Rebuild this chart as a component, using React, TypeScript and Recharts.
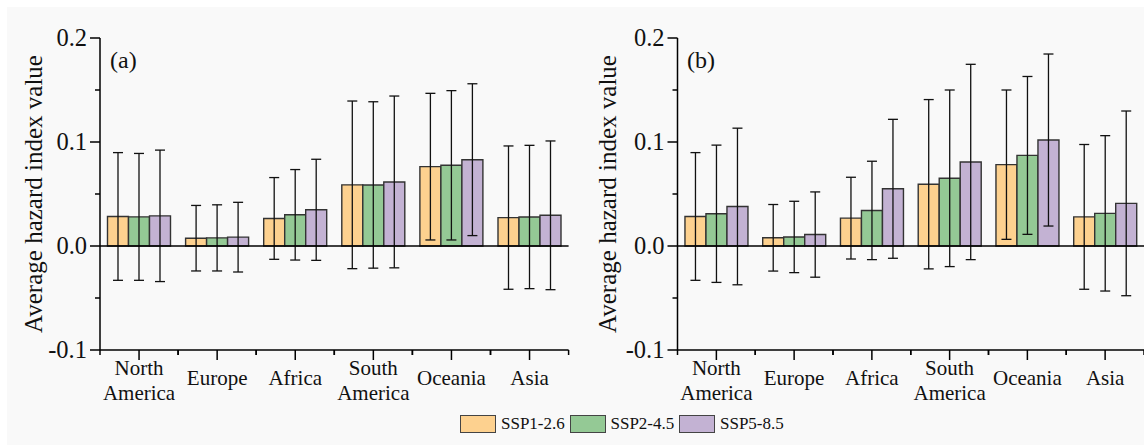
import { BarChart, Bar, XAxis, YAxis, ErrorBar, ReferenceLine } from 'recharts'

const categories = ['North America', 'Europe', 'Africa', 'South America', 'Oceania', 'Asia']
const scenarios = ['SSP1-2.6', 'SSP2-4.5', 'SSP5-8.5']
const yTicks = [-0.1, -0.05, 0, 0.05, 0.1, 0.15, 0.2]

// panel (a)
const a126 = [0.0284, 0.0075, 0.0265, 0.0588, 0.0763, 0.0273]
const a245 = [0.028, 0.0078, 0.03, 0.0587, 0.0776, 0.0279]
const a585 = [0.029, 0.0085, 0.0348, 0.0616, 0.083, 0.0295]
const a126Err = [0.0614, 0.0315, 0.0393, 0.0806, 0.0705, 0.0689]
const a245Err = [0.061, 0.0318, 0.0435, 0.08, 0.0718, 0.0689]
const a585Err = [0.0632, 0.0335, 0.0486, 0.0826, 0.073, 0.0715]

// panel (b)
const b126 = [0.0284, 0.0079, 0.0268, 0.0594, 0.0782, 0.028]
const b245 = [0.031, 0.0087, 0.0342, 0.0651, 0.0871, 0.0314]
const b585 = [0.038, 0.011, 0.055, 0.0808, 0.1019, 0.041]
const b126Err = [0.0614, 0.032, 0.0393, 0.0814, 0.0718, 0.0696]
const b245Err = [0.066, 0.0343, 0.0473, 0.0849, 0.0759, 0.0747]
const b585Err = [0.0753, 0.041, 0.0668, 0.0939, 0.0827, 0.0888]

const colors = ['#fdd18f', '#94c995', '#c3b2d3']
const serif = '"Liberation Serif", "Times New Roman", serif'

function rows(v1: number[], v2: number[], v3: number[], e1: number[], e2: number[], e3: number[]) {
  return categories.map((name, i) => ({
    name,
    s126: v1[i],
    s245: v2[i],
    s585: v3[i],
    e126: e1[i],
    e245: e2[i],
    e585: e3[i],
  }))
}

const dataA = rows(a126, a245, a585, a126Err, a245Err, a585Err)
const dataB = rows(b126, b245, b585, b126Err, b245Err, b585Err)

function CategoryTick(props: any) {
  const { x, y, payload } = props
  const half = payload?.offset ?? 39
  const lines = String(payload.value).split(' ')
  return (
    <g>
      <line x1={x} x2={x} y1={y} y2={y + 10} stroke="#000" strokeWidth={1.5} />
      <line x1={x - half} x2={x - half} y1={y} y2={y + 5} stroke="#000" strokeWidth={1.5} />
      <line x1={x + half} x2={x + half} y1={y} y2={y + 5} stroke="#000" strokeWidth={1.5} />
      {lines.length === 1 ? (
        <text x={x} y={y + 35} textAnchor="middle" fontFamily={serif} fontSize={21} fill="#111">
          {lines[0]}
        </text>
      ) : (
        <text textAnchor="middle" fontFamily={serif} fontSize={21} fill="#111">
          <tspan x={x} y={y + 25}>{lines[0]}</tspan>
          <tspan x={x} y={y + 50}>{lines[1]}</tspan>
        </text>
      )}
    </g>
  )
}

function ValueTick(props: any) {
  const { x, y, payload } = props
  const v = payload.value as number
  const major = Math.abs(Math.round(v * 10) - v * 10) < 1e-6
  return (
    <g>
      <line x1={x - (major ? 10 : 5)} x2={x} y1={y} y2={y} stroke="#000" strokeWidth={1.5} />
      {major && (
        <text x={x - 13} y={y + 8} textAnchor="end" fontFamily={serif} fontSize={24.5} fill="#111">
          {v.toFixed(1)}
        </text>
      )}
    </g>
  )
}

function AxisTitle(props: any) {
  const { viewBox, cx } = props
  const y = viewBox.y + viewBox.height / 2
  const x = viewBox.x + cx
  return (
    <text
      x={x}
      y={y}
      transform={`rotate(-90, ${x}, ${y})`}
      textAnchor="middle"
      dominantBaseline="central"
      fontFamily={serif}
      fontSize={25}
      fill="#111"
    >
      Average hazard index value
    </text>
  )
}

type PanelProps = {
  data: ReturnType<typeof rows>
  width: number
  axisWidth: number
  rightMargin: number
  titleX: number
}

function Panel({ data, width, axisWidth, rightMargin, titleX }: PanelProps) {
  return (
    <BarChart
      width={width}
      height={445}
      data={data}
      margin={{ top: 38, right: rightMargin, left: 0, bottom: 35 }}
      barCategoryGap="9.6%"
      barGap={0}
    >
      <XAxis
        dataKey="name"
        height={60}
        interval={0}
        tickSize={0}
        tickMargin={0}
        tickLine={false}
        axisLine={{ stroke: '#000', strokeWidth: 1.5 }}
        tick={(p: any) => <CategoryTick {...p} />}
      />
      <YAxis
        width={axisWidth}
        domain={[-0.1, 0.2]}
        ticks={yTicks}
        interval={0}
        tickSize={0}
        tickMargin={0}
        tickLine={false}
        axisLine={{ stroke: '#000', strokeWidth: 1.5 }}
        tick={(p: any) => <ValueTick {...p} />}
        label={<AxisTitle cx={titleX} />}
      />
      <Bar dataKey="s126" fill={colors[0]} stroke="#333" strokeWidth={1.4} isAnimationActive={false}>
        <ErrorBar dataKey="e126" width={5} stroke="#111" strokeWidth={1.3} />
      </Bar>
      <Bar dataKey="s245" fill={colors[1]} stroke="#333" strokeWidth={1.4} isAnimationActive={false}>
        <ErrorBar dataKey="e245" width={5} stroke="#111" strokeWidth={1.3} />
      </Bar>
      <Bar dataKey="s585" fill={colors[2]} stroke="#333" strokeWidth={1.4} isAnimationActive={false}>
        <ErrorBar dataKey="e585" width={5} stroke="#111" strokeWidth={1.3} />
      </Bar>
      <ReferenceLine y={0} stroke="#000" strokeWidth={1.5} />
    </BarChart>
  )
}

export default function App() {
  return (
    <div style={{ position: 'absolute', left: 0, top: 0, width: 1144, height: 445, background: '#fff', overflow: 'hidden' }}>
      <div style={{ position: 'absolute', left: 7, top: 7, right: 0, bottom: 0, background: '#f9f9f9' }} />
      <div style={{ position: 'absolute', left: 0, top: 0 }}>
        <Panel data={dataA} width={580} axisWidth={100} rightMargin={11.4} titleX={33} />
      </div>
      <div style={{ position: 'absolute', left: 570, top: 0 }}>
        <Panel data={dataB} width={574} axisWidth={107.5} rightMargin={0} titleX={37} />
      </div>
      <div style={{ position: 'absolute', left: 110, top: 47, fontFamily: serif, fontSize: 24, color: '#111' }}>(a)</div>
      <div style={{ position: 'absolute', left: 687, top: 47, fontFamily: serif, fontSize: 24, color: '#111' }}>(b)</div>
      <div
        style={{
          position: 'absolute',
          left: 460,
          top: 414,
          display: 'flex',
          alignItems: 'center',
          fontFamily: serif,
          fontSize: 17,
          color: '#111',
        }}
      >
        {scenarios.map((s, i) => (
          <div key={s} style={{ display: 'flex', alignItems: 'center', width: i < 2 ? 109.5 : 'auto' }}>
            <div style={{ width: 34, height: 16, background: colors[i], border: '1px solid #444', marginRight: 5 }} />
            <span>{s}</span>
          </div>
        ))}
      </div>
    </div>
  )
}
